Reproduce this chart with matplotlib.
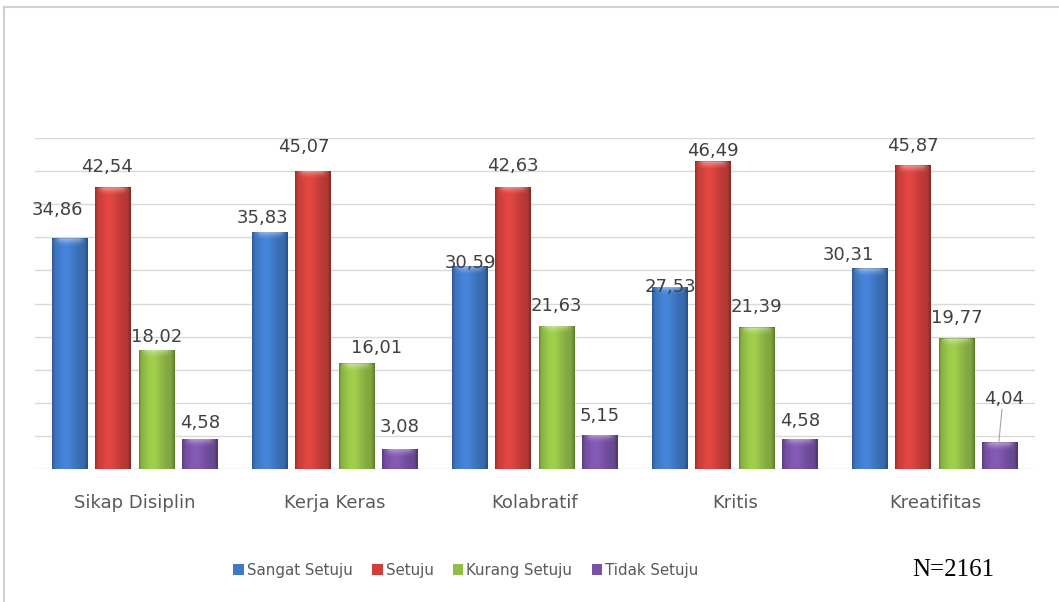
import numpy as np
import matplotlib
matplotlib.use("Agg")
import matplotlib.pyplot as plt
from matplotlib.patches import Patch
from matplotlib.lines import Line2D
from matplotlib.colors import to_rgb

# ---------------- data ----------------
categories = ["Sikap Disiplin", "Kerja Keras", "Kolabratif", "Kritis", "Kreatifitas"]
series_names = ["Sangat Setuju", "Setuju", "Kurang Setuju", "Tidak Setuju"]
sangat_setuju = [34.86, 35.83, 30.59, 27.53, 30.31]
setuju = [42.54, 45.07, 42.63, 46.49, 45.87]
kurang_setuju = [18.02, 16.01, 21.63, 21.39, 19.77]
tidak_setuju = [4.58, 3.08, 5.15, 4.58, 4.04]
note_text = "N=2161"

# ---------------- style ----------------
series_values = [sangat_setuju, setuju, kurang_setuju, tidak_setuju]
base_colors = ["#4079c6", "#cf403c", "#92bd46", "#7852a6"]
# label offsets (pixels) relative to default position, per category x series
label_offsets = [
    [(-13, 9), (-6, 1), (0, -6), (0, -3)],
    [(-8, -5), (-10, 5), (20, -4), (0, 3)],
    [(0, -16), (0, 2), (0, 1), (0, 0)],
    [(0, -19), (0, -9), (0, 1), (0, -1)],
    [(-22, -6), (0, 0), (0, 1), (4, 24)],
]

W, H, DPI = 1059, 602, 100
fig = plt.figure(figsize=(W / DPI, H / DPI), dpi=DPI)
fig.patch.set_facecolor("white")
ax_l, ax_r, ax_t, ax_b = 35, 1035, 138, 469
ax = fig.add_axes([ax_l / W, 1 - ax_b / H, (ax_r - ax_l) / W, (ax_b - ax_t) / H])

ymax = 50
ax.set_ylim(0, ymax)
ax.set_xlim(-0.5, len(categories) - 0.5)
px_per_unit = (ax_b - ax_t) / ymax

pitch = 0.2165
bw = 0.18
x = np.arange(len(categories))


def shade_image(color, n_rows):
    r, g, b = to_rgb(color)
    base = np.array([r, g, b])
    u = np.linspace(0, 1, 40)
    prof = 0.86 + 0.24 * np.exp(-((u - 0.38) / 0.30) ** 2)
    prof[:3] *= np.array([0.80, 0.90, 0.96])
    prof[-4:] *= np.array([0.95, 0.90, 0.83, 0.75])
    img = np.clip(base[None, None, :] * prof[None, :, None], 0, 1)
    img = np.repeat(img, n_rows, axis=0)
    # top bevel highlight
    nb = min(8, n_rows // 2)
    for k in range(nb):
        t = (1 - k / max(nb, 1)) ** 1.5 * 0.45
        inner = np.exp(-((u - 0.5) / 0.38) ** 6)
        img[k] = img[k] * (1 - t * inner[:, None]) + t * inner[:, None]
    if n_rows > 3:
        img[0] = img[0] * 0.85
    return img


for i, (vals, col) in enumerate(zip(series_values, base_colors)):
    xs = x + (i - 1.5) * pitch
    bars = ax.bar(xs, vals, width=bw, color=col, edgecolor="none", zorder=2)
    for j, rect in enumerate(bars):
        x0 = rect.get_x()
        h = rect.get_height()
        n_rows = max(int(round(h * px_per_unit)), 4)
        img = shade_image(col, n_rows)
        im = ax.imshow(img, extent=(x0, x0 + bw, 0, h), origin="upper",
                       aspect="auto", interpolation="bilinear", zorder=3)
        im.set_clip_path(rect)
        dx, dy = label_offsets[j][i]
        ax.annotate(f"{vals[j]:.2f}".replace(".", ","),
                    xy=(xs[j], h), xytext=(dx, 19 + dy),
                    textcoords="offset pixels", ha="center", va="center",
                    fontsize=13, color="#404040", zorder=5)
        if dy > 15:
            ax.plot([xs[j] - 0.005, xs[j] + dx / 400],
                    [h + 1 / px_per_unit, h + (19 + dy - 10) / px_per_unit],
                    color="#a6a6a6", lw=0.8, zorder=4)

ax.set_xlim(-0.5, len(categories) - 0.5)
ax.set_ylim(0, ymax)
ax.set_yticks(np.arange(0, ymax + 1, 5))
ax.yaxis.grid(True, color="#d9d9d9", lw=1)
ax.set_axisbelow(True)
ax.tick_params(axis="y", length=0, labelleft=False)
ax.set_xticks(x)
ax.set_xticklabels(categories, fontsize=13, color="#595959")
ax.tick_params(axis="x", length=0, pad=18)
for s in ax.spines.values():
    s.set_visible(False)

# legend
handles = [Patch(facecolor=c, edgecolor="none") for c in base_colors]
fig.legend(handles, series_names, loc="center", bbox_to_anchor=(0.440, 1 - 570 / H),
           ncol=4, frameon=False, fontsize=10.8, handlelength=0.7, handleheight=0.7,
           handletextpad=0.2, columnspacing=1.3, labelcolor="#595959")

fig.text(953 / W, 1 - 570 / H, note_text, ha="center", va="center",
         fontsize=18, family="Liberation Serif", color="black")

# outer frame
fig.add_artist(Line2D([4 / W, 1], [1 - 7 / H, 1 - 7 / H], color="#d0d0d0", lw=1.5,
                      transform=fig.transFigure))
fig.add_artist(Line2D([4 / W, 4 / W], [0, 1 - 7 / H], color="#d0d0d0", lw=1.5,
                      transform=fig.transFigure))

fig.savefig("out.png", dpi=DPI, facecolor="white")
